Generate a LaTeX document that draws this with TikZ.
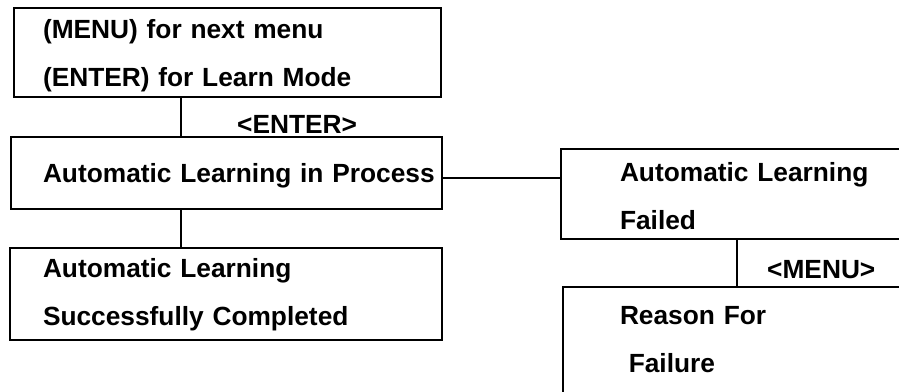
\documentclass[tikz,border=0pt]{standalone}
\usepackage{fontspec}
\setmainfont{Liberation Sans}
\usepackage{tikz}

\tikzset{
    menubox/.style 2 args={draw, rectangle, line width=2pt, inner xsep=0pt, inner ysep=0pt,
        minimum width=#1, text width=#1, align=left, text height=18.8pt, text depth=48pt,
        execute at begin node={\leftskip=#2},
        font=\bfseries\fontsize{26.3}{48}\selectfont},
    keylabel/.style={anchor=base west, inner sep=0pt, font=\bfseries\fontsize{26.3}{30}\selectfont},
    link/.style={line width=2pt}
}

\begin{document}
\begin{tikzpicture}[x=1pt, y=-1pt]
        \useasboundingbox (0,0) rectangle (899,391);
        \clip (0,0) rectangle (899,391);
        % Menu and learning boxes
        \node[menubox={427pt}{29pt}, minimum height=89pt, text depth=46pt] (menu) at (227.5,52.5)
            {(MENU) for next menu\\(ENTER) for Learn Mode};
        \node[menubox={431pt}{32.5pt}, minimum height=72pt, text depth=0pt] (process) at (226,173)
            {Automatic Learning in Process};
        \node[menubox={432pt}{33pt}, minimum height=92pt, text depth=51pt] (done) at (226,294)
            {Automatic Learning\\Successfully Completed};
        \node[menubox={400pt}{59pt}, minimum height=90pt, text depth=43pt] (failed) at (761,194)
            {Automatic Learning\\Failed};
        \node[menubox={400pt}{57pt}, minimum height=115pt, text depth=58pt] (reason) at (763,344.5)
            {Reason For\\\mbox{}\ Failure};
        % Connectors
        \coordinate (left) at (181,0);
        \coordinate (right) at (737,0);
        \coordinate (mid) at (0,178);
        \draw[link] (left |- menu.south) -- (left |- process.north);
        \draw[link] (left |- process.south) -- (left |- done.north);
        \draw[link] (mid -| process.east) -- (mid -| failed.west);
        \draw[link] (right |- failed.south) -- (right |- reason.north);
        % Key labels
        \node[keylabel] (enter) at (237,133) {<ENTER>};
        \node[keylabel] (menukey) at (767,278) {<MENU>};
    \end{tikzpicture}
\end{document}
